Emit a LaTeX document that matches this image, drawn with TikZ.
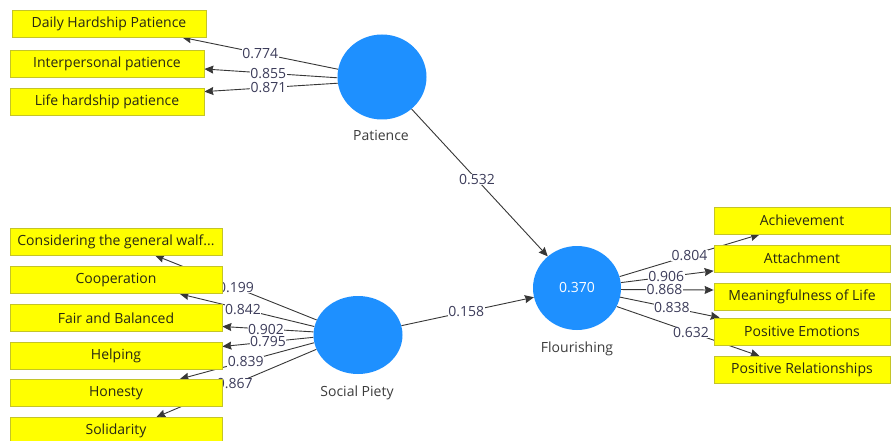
\documentclass[tikz,border=0pt]{standalone}
\usepackage{fontspec}
\setmainfont{Open Sans}
\usetikzlibrary{shapes.geometric,arrows.meta,calc}
\definecolor{boxyellow}{RGB}{255,255,0}
\definecolor{boxedge}{RGB}{196,196,40}
\definecolor{boxtext}{RGB}{40,40,20}
\definecolor{lvblue}{RGB}{30,144,255}
\definecolor{linegray}{RGB}{55,55,55}
\definecolor{numcol}{RGB}{60,60,90}
\definecolor{namecol}{RGB}{60,60,60}
\pgfdeclarelayer{bg}
\pgfdeclarelayer{paper}
\pgfsetlayers{paper,bg,main}
\tikzset{
  indbox/.style={draw=boxedge, fill=boxyellow, line width=0.8pt, text=boxtext, inner sep=0pt, minimum height=27pt, font=\fontsize{14}{16}\selectfont},
  latent/.style={ellipse, fill=lvblue, draw=none, minimum width=89pt, minimum height=85pt, inner sep=0pt, text=white, font=\fontsize{14}{16}\selectfont},
  lvname/.style={text=namecol, font=\fontsize{14}{16}\selectfont},
  conn/.style={draw=linegray, line width=0.9pt, -{Stealth[length=9pt,width=8pt,inset=1pt]}},
  lbl/.style={fill=white, inner sep=0.5pt, text=numcol, font=\fontsize{14}{14}\selectfont}
}
\begin{document}
\begin{tikzpicture}[x=1pt,y=-1pt]
\clip (0,0) rectangle (892,441);
\begin{pgfonlayer}{paper}
\fill[white] (0,0) rectangle (892,441);
\end{pgfonlayer}
% latent variables
\node[latent] (pat) at (382,77) {};
\node[latent, minimum height=78pt] (sp) at (358,335) {};
\node[latent, minimum width=88pt, minimum height=84pt] (flo) at (577,288) {0.370};
\node[lvname] (patn) at (381,135) {Patience};
\node[lvname] (spn) at (357,393) {Social Piety};
\node[lvname] (flon) at (577,349) {Flourishing};
% indicator boxes
\node[indbox, minimum width=194pt] (dhp) at (109,23.5) {Daily Hardship Patience};
\node[indbox, minimum width=194pt] (ip) at (107,63.5) {Interpersonal patience};
\node[indbox, minimum width=194pt] (lhp) at (107,102) {Life hardship patience};
\node[indbox, minimum width=212pt] (cons) at (116,241.5) {Considering the general walf...};
\node[indbox, minimum width=212pt] (coop) at (116,280) {Cooperation};
\node[indbox, minimum width=212pt] (fab) at (116,318) {Fair and Balanced};
\node[indbox, minimum width=212pt] (help) at (116,355.5) {Helping};
\node[indbox, minimum width=212pt] (hon) at (116,393) {Honesty};
\node[indbox, minimum width=212pt] (sol) at (116,431) {Solidarity};
\node[indbox, minimum width=176pt] (ach) at (802,220.5) {Achievement};
\node[indbox, minimum width=176pt] (att) at (802,258.5) {Attachment};
\node[indbox, minimum width=176pt] (mean) at (802,296.5) {Meaningfulness of Life};
\node[indbox, minimum width=176pt] (pe) at (802,331.5) {Positive Emotions};
\node[indbox, minimum width=176pt] (pr) at (802,370) {Positive Relationships};
\begin{pgfonlayer}{bg}
% structural paths
\draw[conn] (pat) -- node[lbl, pos=0.48] {0.532} (flo);
\draw[conn] (sp) -- node[lbl, pos=0.49] {0.158} (flo);
% Patience loadings
\draw[conn] (pat.170) -- node[lbl, pos=0.5] {0.774} ($(dhp.south west)!0.876!(dhp.south east)$);
\draw[conn] (pat.181) -- node[lbl, pos=0.52] {0.855} ($(ip.east)+(0,5.5)$);
\draw[conn] (pat.188) -- node[lbl, pos=0.52] {0.871} ($(lhp.north east)+(0,3.5)$);
% Social Piety loadings
\draw[conn] (sp.160) -- node[lbl, pos=0.5] {0.199} ($(cons.south west)!0.684!(cons.south east)$);
\draw[conn] (sp.169) -- node[lbl, pos=0.53] {0.842} ($(coop.south west)!0.80!(coop.south east)$);
\draw[conn] (sp.199) -- node[lbl, pos=0.51] {0.867} ($(sol.north west)!0.69!(sol.north east)$);
\draw[conn] (sp.190) -- node[lbl, pos=0.51] {0.839} ($(hon.north west)!0.80!(hon.north east)$);
\draw[conn] (sp.183) -- node[lbl, pos=0.5] {0.795} ($(help.east)+(0,-9)$);
\draw[conn] (sp.176) -- node[lbl, pos=0.52] {0.902} ($(fab.east)+(0,8.5)$);
% Flourishing loadings
\draw[conn] (flo.7) -- node[lbl, pos=0.49] {0.906} ($(att.south west)+(0,-1.5)$);
\draw[conn] (flo.15) -- node[lbl, pos=0.5] {0.804} ($(ach.south west)!0.26!(ach.south east)$);
\draw[conn] (flo.-2) -- node[lbl, pos=0.47] {0.868} ($(mean.west)+(0,-6.5)$);
\draw[conn] (flo.-12) -- node[lbl, pos=0.52] {0.838} ($(pe.north west)!0.034!(pe.north east)$);
\draw[conn] (flo.-25) -- node[lbl, pos=0.52] {0.632} ($(pr.north west)!0.26!(pr.north east)$);
\end{pgfonlayer}
\end{tikzpicture}
\end{document}
